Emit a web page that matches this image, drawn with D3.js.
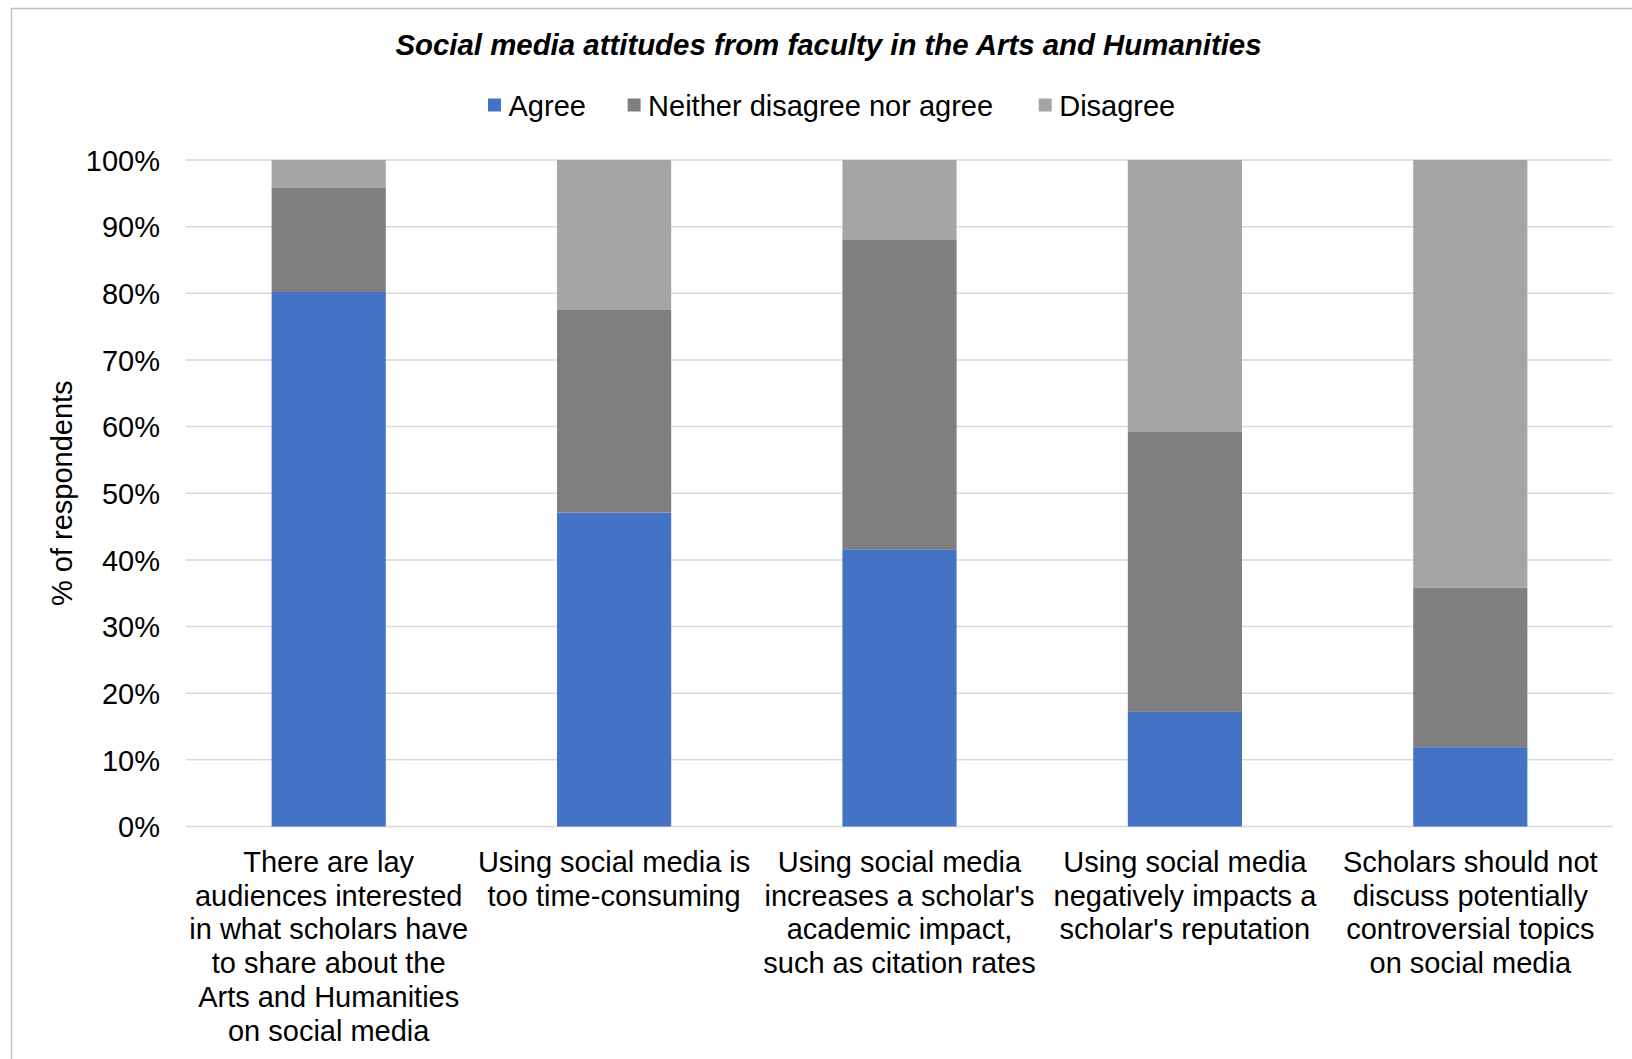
<!DOCTYPE html>
<html>
<head>
<meta charset="utf-8">
<script src="https://cdn.jsdelivr.net/npm/d3@7"></script>
<style>
  html, body { margin: 0; padding: 0; background: #ffffff; }
  svg { display: block; }
  text { font-family: "Liberation Sans", Arial, sans-serif; fill: #000000; }
</style>
</head>
<body>
<svg id="chart" width="1632" height="1059"></svg>
<script>
// Survey statements (line breaks as shown under each bar)
const categories = [
  "There are lay\naudiences interested\nin what scholars have\nto share about the\nArts and Humanities\non social media",
  "Using social media is\ntoo time-consuming",
  "Using social media\nincreases a scholar's\nacademic impact,\nsuch as citation rates",
  "Using social media\nnegatively impacts a\nscholar's reputation",
  "Scholars should not\ndiscuss potentially\ncontroversial topics\non social media"
];

// Share of respondents (%) per response
const agree    = [80.2, 47.1, 41.6, 17.2, 11.9];
const neither  = [15.6, 30.4, 46.5, 42.0, 23.9];
const disagree = [4.2, 22.5, 11.9, 40.8, 64.2];

const seriesNames = ["Agree", "Neither disagree nor agree", "Disagree"];
const seriesColors = ["#4472C4", "#7F7F7F", "#A5A5A5"];
const yTicks = [0, 10, 20, 30, 40, 50, 60, 70, 80, 90, 100];

const chartTitle = "Social media attitudes from faculty in the Arts and Humanities";
const yAxisTitle = "% of respondents";

const svg = d3.select("#chart");
const W = 1632, H = 1059;
const plot = { left: 186, right: 1613, top: 160, bottom: 826.5 };

// Outer chart frame
svg.append("rect")
  .attr("x", 11.5).attr("y", 8.5)
  .attr("width", W + 20).attr("height", H + 20)
  .attr("fill", "#ffffff")
  .attr("stroke", "#BFBFBF")
  .attr("stroke-width", 1.5);

// Scales
const x = d3.scaleBand()
  .domain(d3.range(categories.length))
  .range([plot.left, plot.right])
  .paddingInner(0.6)
  .paddingOuter(0.3);

const y = d3.scaleLinear()
  .domain([0, 100])
  .range([plot.bottom, plot.top]);

// Horizontal gridlines
svg.append("g")
  .selectAll("line")
  .data(yTicks)
  .join("line")
  .attr("x1", plot.left).attr("x2", plot.right)
  .attr("y1", d => y(d)).attr("y2", d => y(d))
  .attr("stroke", "#D9D9D9")
  .attr("stroke-width", 1.5);

// Y axis tick labels
const yAxis = d3.axisLeft(y)
  .tickValues(yTicks)
  .tickFormat(d => d + "%")
  .tickSize(0)
  .tickPadding(0);

const yAxisG = svg.append("g")
  .attr("transform", `translate(${plot.left - 26},0)`)
  .call(yAxis);
yAxisG.select(".domain").remove();
yAxisG.selectAll("text")
  .attr("font-family", "Liberation Sans, Arial, sans-serif")
  .attr("font-size", 29)
  .attr("fill", "#000")
  .attr("dy", "0.35em");

// Stacked bars
const rows = categories.map((c, i) => ({
  idx: i,
  "Agree": agree[i],
  "Neither disagree nor agree": neither[i],
  "Disagree": disagree[i]
}));
const stacked = d3.stack().keys(seriesNames)(rows);

svg.append("g")
  .selectAll("g")
  .data(stacked)
  .join("g")
  .attr("fill", (d, i) => seriesColors[i])
  .selectAll("rect")
  .data(d => d)
  .join("rect")
  .attr("x", d => x(d.data.idx))
  .attr("width", x.bandwidth())
  .attr("y", d => y(d[1]))
  .attr("height", d => y(d[0]) - y(d[1]));

// Category labels, centred under each bar
const xLabels = svg.append("g");
categories.forEach((label, i) => {
  const t = xLabels.append("text")
    .attr("x", x(i) + x.bandwidth() / 2)
    .attr("y", 872)
    .attr("text-anchor", "middle")
    .attr("font-size", 29);
  label.split("\n").forEach((line, j) => {
    t.append("tspan")
      .attr("x", x(i) + x.bandwidth() / 2)
      .attr("dy", j === 0 ? 0 : 33.7)
      .text(line);
  });
});

// Y axis title
svg.append("text")
  .attr("transform", `translate(72,${(plot.top + plot.bottom) / 2}) rotate(-90)`)
  .attr("text-anchor", "middle")
  .attr("font-size", 29)
  .text(yAxisTitle);

// Chart title
svg.append("text")
  .attr("x", 828.5)
  .attr("y", 55)
  .attr("text-anchor", "middle")
  .attr("font-size", 29.4)
  .attr("font-weight", "bold")
  .attr("font-style", "italic")
  .text(chartTitle);

// Legend
const legendX = [488, 627.6, 1038.7];
const legend = svg.append("g");
seriesNames.forEach((name, i) => {
  legend.append("rect")
    .attr("x", legendX[i])
    .attr("y", 98.5)
    .attr("width", 13)
    .attr("height", 13)
    .attr("fill", seriesColors[i]);
  legend.append("text")
    .attr("x", legendX[i] + 20.5)
    .attr("y", 115.5)
    .attr("font-size", 29)
    .text(name);
});
</script>
</body>
</html>
